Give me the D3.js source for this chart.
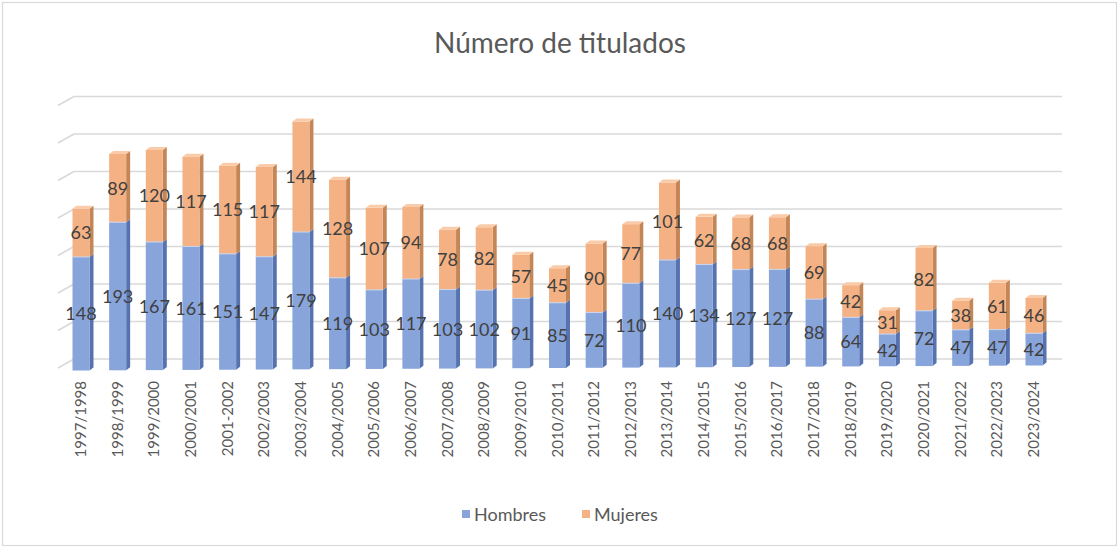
<!DOCTYPE html>
<html><head><meta charset="utf-8">
<script src="https://cdn.jsdelivr.net/npm/d3@7/dist/d3.min.js"></script>
<style>
html,body{margin:0;padding:0;background:#fff;}
svg{display:block;font-family:Lato,"Open Sans",sans-serif;}
</style></head>
<body><svg id="c" width="1119" height="549"></svg>
<script>
const categories = ["1997/1998","1998/1999","1999/2000","2000/2001","2001-2002","2002/2003","2003/2004","2004/2005","2005/2006","2006/2007","2007/2008","2008/2009","2009/2010","2010/2011","2011/2012","2012/2013","2013/2014","2014/2015","2015/2016","2016/2017","2017/2018","2018/2019","2019/2020","2020/2021","2021/2022","2022/2023","2023/2024"];
const hombres = [148,193,167,161,151,147,179,119,103,117,103,102,91,85,72,110,140,134,127,127,88,64,42,72,47,47,42];
const mujeres = [63,89,120,117,115,117,144,128,107,94,78,82,57,45,90,77,101,62,68,68,69,42,31,82,38,61,46];
const gridTicks = [0,50,100,150,200,250,300,350];
const seriesNames = ["Hombres","Mujeres"];

const svg = d3.select("#c");
// chart border
svg.append("rect").attr("x",2.5).attr("y",2.5).attr("width",1114).attr("height",543)
  .attr("fill","#fff").attr("stroke","#d9d9d9").attr("stroke-width",1.2);

// title
svg.append("text").attr("x",560).attr("y",53).attr("text-anchor","middle")
  .attr("font-size",28).attr("fill","#595959").text("Número de titulados");

// back-wall grid scale
const yWall = d3.scaleLinear().domain([0,350]).range([359,96.5]);
const gx0 = 74, gx1 = 1062;
const g = svg.append("g");
gridTicks.forEach(t=>{
  const y = yWall(t);
  g.append("line").attr("x1",gx0).attr("x2",gx1).attr("y1",y).attr("y2",y)
    .attr("stroke","#d9d9d9").attr("stroke-width",1.6);
  g.append("line").attr("x1",58).attr("x2",gx0).attr("y1",y+9).attr("y2",y)
    .attr("stroke","#d9d9d9").attr("stroke-width",1.6);
});

// x point scale for bar centers
const x = d3.scalePoint().domain(categories).range([81,1034]);
// bar height scale (front plane)
const h = d3.scaleLinear().domain([0,350]).range([0,268.5]);
const bw = 17, dx = 4, dy = 3;
const baseY = i => 370.5 - 5*i/(categories.length-1);

const cols = {
  Hombres:{front:"#87a4db", side:"#5673b0", top:"#a9c0e8"},
  Mujeres:{front:"#f4b183", side:"#c48656", top:"#f9cba8"}
};

const stacks = categories.map((c,i)=>{
  const y0 = baseY(i);
  const hb = h(hombres[i]), hm = h(mujeres[i]);
  return {c,i,x:x(c),segs:[
    {name:"Hombres", v:hombres[i], bottom:y0, top:y0-hb},
    {name:"Mujeres", v:mujeres[i], bottom:y0-hb, top:y0-hb-hm}
  ]};
});

const bars = svg.append("g");
stacks.forEach(s=>{
  const xl = s.x - bw/2, xr = s.x + bw/2;
  s.segs.forEach((seg,k)=>{
    const c = cols[seg.name];
    bars.append("polygon").attr("points",[
      [xr,seg.bottom],[xr+dx,seg.bottom-dy],[xr+dx,seg.top-dy],[xr,seg.top]].join(" "))
      .attr("fill",c.side);
    bars.append("rect").attr("x",xl).attr("y",seg.top).attr("width",bw)
      .attr("height",seg.bottom-seg.top).attr("fill",c.front);
    if(k===1){
      bars.append("polygon").attr("points",[
        [xl,seg.top],[xl+dx,seg.top-dy],[xr+dx,seg.top-dy],[xr,seg.top]].join(" "))
        .attr("fill",c.top);
    }
  });
  bars.append("line").attr("x1",xl).attr("x2",xr).attr("y1",s.segs[0].top).attr("y2",s.segs[0].top)
    .attr("stroke","#c9d6ee").attr("stroke-width",1);
});

// value labels
const lab = svg.append("g").attr("font-size",18).attr("fill","#404040").attr("text-anchor","middle");
stacks.forEach(s=>{
  s.segs.forEach(seg=>{
    lab.append("text").attr("x",s.x).attr("y",(seg.top+seg.bottom)/2)
      .attr("dy","0.36em").text(seg.v);
  });
});

// category axis labels
const xlab = svg.append("g").attr("font-size",15).attr("fill","#595959");
categories.forEach(c=>{
  xlab.append("text").attr("text-anchor","end")
    .attr("transform",`translate(${x(c)+5},381) rotate(-90)`).text(c);
});

// legend
const leg = svg.append("g").attr("font-size",18).attr("fill","#595959");
const legPos = [462,582];
seriesNames.forEach((n,i)=>{
  leg.append("rect").attr("x",legPos[i]).attr("y",510).attr("width",8).attr("height",8)
    .attr("fill",cols[n].front);
  leg.append("text").attr("x",legPos[i]+12).attr("y",521).text(n);
});
</script></body></html>
